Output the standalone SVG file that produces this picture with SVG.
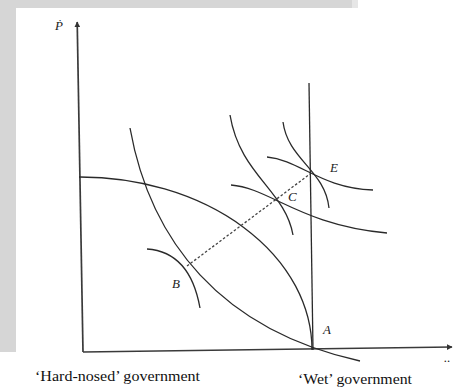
<svg xmlns="http://www.w3.org/2000/svg" width="459" height="391" viewBox="0 0 459 391">
<style>
.ln{fill:none;stroke:#2a2a2a;stroke-width:1.3}
.ax{fill:none;stroke:#3a3a3a;stroke-width:1.7}
.ds{fill:none;stroke:#444;stroke-width:1.3;stroke-dasharray:2.5,2}
.lb{font-family:"Liberation Serif",serif;font-style:italic;font-size:13px;fill:#222}
.cap{font-family:"Liberation Serif",serif;font-size:15px;fill:#111}
</style>
<defs>
<marker id="ah" viewBox="0 0 10 10" refX="9" refY="5" markerWidth="6" markerHeight="6" orient="auto" markerUnits="userSpaceOnUse">
<path d="M0,0 L10,5 L0,10 z" fill="#333"/>
</marker>
</defs>
<rect width="459" height="391" fill="#fff"/>
<rect x="0" y="0" width="352" height="8" fill="#d6d6d6"/>
<rect x="352" y="0" width="6" height="8" fill="#e6e6e6"/>
<rect x="0" y="0" width="16" height="352" fill="#d6d6d6"/>
<g id="axes">
<line class="ax" x1="83" y1="352" x2="77.2" y2="22" marker-end="url(#ah)"/>
<line class="ax" x1="83" y1="352" x2="452" y2="347" marker-end="url(#ah)"/>
<text class="lb" x="55" y="30">Ṗ</text>
<text class="lb" x="444" y="362" font-size="10">..</text>
</g>
<g id="connectors">
<line id="vertical" class="ln" x1="309" y1="83" x2="313" y2="350"/>
<path id="frontier" class="ln" d="M79,177 A232,173 0 0 1 312,350"/>
<path id="convex" class="ln" d="M130,128 C150,240 220,330 360,361"/>
<line id="dashed" class="ds" x1="187" y1="266" x2="310" y2="174"/>
<path id="tB" class="ln" d="M147,249 Q190,252 200,308"/>
<path id="tC1" class="ln" d="M230,115 C240,175 285,190 293,235"/>
<path id="tC2" class="ln" d="M231,185 C270,188 300,225 387,233"/>
<path id="tE1" class="ln" d="M283,122 C288,160 325,170 329,208"/>
<path id="tE2" class="ln" d="M267,157 C300,160 320,188 373,190"/>
</g>
<g id="A"><text class="lb" x="323" y="334">A</text></g>
<g id="B"><text class="lb" x="172" y="288">B</text></g>
<g id="C"><text class="lb" x="288" y="201">C</text></g>
<g id="E"><text class="lb" x="330" y="172">E</text></g>
<g id="captions">
<text class="cap" x="35" y="381" textLength="165" lengthAdjust="spacingAndGlyphs">‘Hard-nosed’ government</text>
<text class="cap" x="298" y="384" textLength="114" lengthAdjust="spacingAndGlyphs">‘Wet’ government</text>
</g>
</svg>
